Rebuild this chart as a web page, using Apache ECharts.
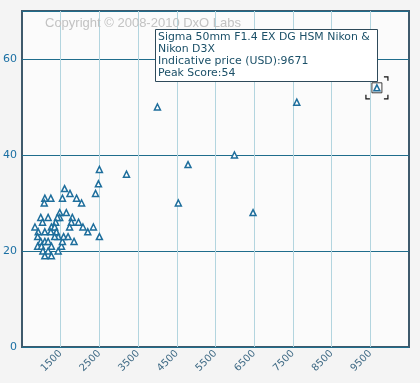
<!DOCTYPE html>
<html><head><meta charset="utf-8">
<script src="https://cdn.jsdelivr.net/npm/echarts@6/dist/echarts.min.js"></script>
<style>html,body{margin:0;padding:0;background:#f4f4f4;}#c{width:420px;height:383px;}</style>
</head><body><div id="c"></div>
<script>
// Lens prices (USD) and peak scores
const prices = [4000, 7600, 9671, 4790, 4540, 5990, 6470, 3200, 2500, 2475, 2400, 2500, 2345, 2200, 2075, 2040, 1910, 1740, 1600, 1545,
  1090, 1245, 1075, 985, 1175, 1030, 1475, 1645, 1475, 1415, 1800, 1775, 1370, 1960, 1730, 1845,
  835, 920, 1090, 1260, 1345, 1245, 1390, 905, 985, 1090, 1175, 1260, 905, 1005, 1040, 1175, 1090, 1260, 1435, 1520, 1545, 1575, 1690, 1435, 1345];
const scores = [50, 51, 54, 38, 30, 40, 28, 36, 37, 34, 32, 23, 25, 24, 25, 30, 31, 32, 33, 31,
  31, 31, 30, 27, 27, 26, 28, 28, 27, 27, 27, 26, 26, 26, 25, 22,
  25, 24, 24, 25, 25, 24, 24, 23, 22, 22, 22, 21, 21, 21, 20, 20, 19, 19, 20, 21, 22, 23, 23, 23, 23];
const xTicks = [1500, 2500, 3500, 4500, 5500, 6500, 7500, 8500, 9500];
const selectedPoint = [9671, 54];
const tipLines = ['Sigma 50mm F1.4 EX DG HSM Nikon &', 'Nikon D3X', 'Indicative price (USD):9671', 'Peak Score:54'];
const copyrightText = 'Copyright \u00a9 2008-2010 DxO Labs';

const chart = echarts.init(document.getElementById('c'));
const data = prices.map((p, i) => [p, scores[i]]);
chart.setOption({
  animation: false,
  backgroundColor: '#f4f4f4',
  grid: {left: 21, top: 11, right: 11, bottom: 36, show: true, backgroundColor: '#fbfbfb', borderColor: '#3f5a6c', borderWidth: 2},
  xAxis: {
    type: 'value', min: 500, max: 10500,
    axisLine: {show: false},
    axisTick: {show: false, customValues: xTicks},
    axisLabel: {customValues: xTicks, rotate: 45, color: '#3f6a85', fontFamily: 'DejaVu Sans', fontSize: 10, margin: 5, formatter: v => String(v)},
    splitLine: {show: true, lineStyle: {color: '#b3d5df', width: 1}}
  },
  yAxis: {
    type: 'value', min: 0, max: 70, interval: 20,
    axisLine: {show: false}, axisTick: {show: false},
    axisLabel: {showMaxLabel: false, color: '#1a6fa3', fontFamily: 'DejaVu Sans', fontSize: 11, margin: 5},
    splitLine: {show: true, lineStyle: {color: '#1f6d8c', width: 1}}
  },
  series: [{
    type: 'scatter', data: data, symbol: 'triangle', symbolSize: 6,
    itemStyle: {color: '#ffffff', borderColor: '#1e6e9c', borderWidth: 1.5, opacity: 1}
  }, {
    type: 'scatter', data: [selectedPoint], symbol: 'rect', symbolSize: 10, z: 1,
    itemStyle: {color: 'rgba(0,0,0,0)', borderColor: '#111', borderWidth: 1}
  }]
});

const sp = chart.convertToPixel({gridIndex: 0}, selectedPoint);
const b = 11, L = 4;
const cx = sp[0], cy = sp[1];
const corners = [
  [[cx - b, cy - b + L], [cx - b, cy - b], [cx - b + L, cy - b]],
  [[cx + b - L, cy - b], [cx + b, cy - b], [cx + b, cy - b + L]],
  [[cx - b, cy + b - L], [cx - b, cy + b], [cx - b + L, cy + b]],
  [[cx + b - L, cy + b], [cx + b, cy + b], [cx + b, cy + b - L]]
];
const gfx = corners.map(pts => ({type: 'polyline', shape: {points: pts}, style: {stroke: '#111', lineWidth: 1.2, fill: null}, z: 100}));
gfx.push({type: 'text', left: 45, top: 17, style: {text: copyrightText, fill: '#c2c2c2', font: '13px "Liberation Sans", Arial'}, z: 50});
gfx.push({type: 'rect', shape: {x: 155.5, y: 29.5, width: 222, height: 52}, style: {fill: '#ffffff', stroke: '#2e4a5a', lineWidth: 1}, z: 110});
gfx.push({type: 'text', x: 158, y: 31, style: {text: tipLines.join('\n'), fill: '#1b5068', font: '10.9px "DejaVu Sans"', lineHeight: 12}, z: 111});
chart.setOption({graphic: gfx});
</script></body></html>
